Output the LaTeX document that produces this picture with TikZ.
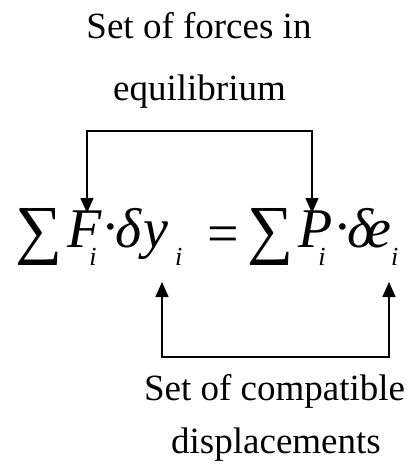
\documentclass[tikz,border=0pt]{standalone}
\usepackage{fontspec}
\setmainfont{Liberation Serif}
\usetikzlibrary{arrows.meta}
\newcommand\subf[1]{\raisebox{-18pt}{\fontsize{26}{30}\selectfont\itshape #1}}
\begin{document}
\begin{tikzpicture}[x=1pt,y=-1pt,
  lbl/.style={inner sep=0pt,anchor=base,font=\fontsize{37}{44}\selectfont},
  big/.style={inner sep=0pt,anchor=base west,font=\fontsize{56}{60}\selectfont\itshape},
  upr/.style={inner sep=0pt,anchor=base west,font=\fontsize{56}{60}\selectfont},
  conn/.style={line width=1.6pt,{Triangle[width=13pt,length=15pt]}-{Triangle[width=13pt,length=15pt]}}]
\useasboundingbox (0,0) rectangle (414,472);
% texts
\node[lbl] (t1) at (199,38) {Set of forces in};
\node[lbl] (t2) at (199.5,100) {equilibrium};
\node[lbl] (b1) at (274.5,400) {Set of compatible};
\node[lbl] (b2) at (276,453) {displacements};
% equation
\node[inner sep=0pt,anchor=north west] (s1) at (15,208) {\resizebox*{47pt}{57pt}{∑}};
\node[big] (F) at (67,247) {F\kern-12pt\subf{i}};
\node[upr] (d1) at (101,245) {·};
\node[big] (dy) at (115,247) {δ\kern2pt y\kern7pt\subf{i}};
\node[upr] (eq) at (207,252) {=};
\node[inner sep=0pt,anchor=north west] (s2) at (247,208) {\resizebox*{46pt}{57pt}{∑}};
\node[big] (P) at (298,247) {P\kern-14pt\subf{i}};
\node[upr] (d2) at (333,245) {·};
\node[big] (de) at (347,247) {δ\kern-7pt e\subf{i}};
% connectors
\coordinate (ftip) at (87,213);
\coordinate (ptip) at (312,213);
\coordinate (tl) at (87,131);
\coordinate (tr) at (312,131);
\draw[conn] (ftip) -- (tl) -- (tr) -- (ptip);
\coordinate (ytip) at (162,282);
\coordinate (etip) at (389,282);
\coordinate (bl) at (162,357);
\coordinate (br) at (389,357);
\draw[conn] (ytip) -- (bl) -- (br) -- (etip);
\end{tikzpicture}
\end{document}
